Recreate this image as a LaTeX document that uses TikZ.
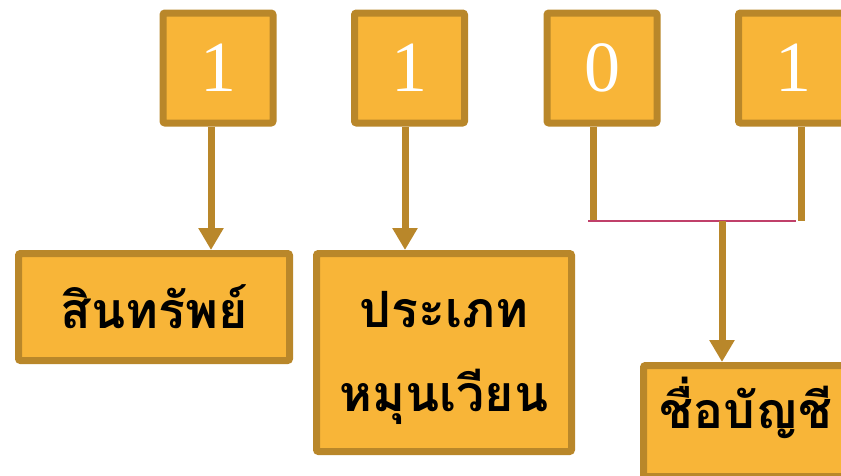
\documentclass[tikz,border=0pt]{standalone}
\usepackage{fontspec}
\setmainfont{Liberation Serif}
\newfontfamily\thaifont[Script=Thai]{Loma}
\usetikzlibrary{arrows.meta}
\definecolor{boxfill}{RGB}{248,181,56}
\definecolor{boxline}{RGB}{185,135,42}
\definecolor{joinline}{RGB}{192,64,106}

\begin{document}
\begin{tikzpicture}[x=1pt,y=-1pt,
	digitbox/.style={draw=boxline,fill=boxfill,line width=7pt,rounded corners=2pt,minimum width=110pt,minimum height=110pt,inner sep=0pt,text=white,font=\fontsize{72}{72}\selectfont},
	namebox/.style={draw=boxline,fill=boxfill,line width=7pt,rounded corners=2pt,inner sep=0pt,align=center,font=\thaifont\bfseries\fontsize{50}{84}\selectfont},
	link/.style={draw=boxline,line width=7pt},
	linkarrow/.style={link,-{Triangle[length=22pt,width=24pt]}}]
	\useasboundingbox (0,0) rectangle (841,475);
	\clip (0,0) rectangle (841,475);
	
	%DIGIT BOXES
	\node[digitbox] (d1) at (218,68) {1};
	\node[digitbox] (d2) at (409.5,68) {1};
	\node[digitbox] (d3) at (602,68) {0};
	\node[digitbox] (d4) at (793.5,68) {1};
	
	%NAME BOXES
	\node[namebox,minimum width=271pt,minimum height=107pt] (asset) at (154,307) {สินทรัพย์};
	\node[namebox,minimum width=255pt,minimum height=198pt,text depth=2pt] (current) at (444,352.5) {ประเภท\\หมุนเวียน};
	\node[namebox,minimum width=205pt,minimum height=111pt,text depth=36pt] (account) at (746,421) {ชื่อบัญชี};
	
	%JOIN
	\coordinate (jl) at (588,221);
	\coordinate (jr) at (796,221);
	\coordinate (jn) at (722,221);
	
	%ARROWS
	\draw[linkarrow] ([xshift=-7pt]d1.south) -- ([xshift=-7pt]d1.south |- asset.north);
	\draw[linkarrow] ([xshift=-4.5pt]d2.south) -- ([xshift=-4.5pt]d2.south |- current.north);
	\draw[link] ([xshift=-9pt]d3.south) -- ([xshift=-9pt]d3.south |- jl);
	\draw[link] ([xshift=7.5pt]d4.south) -- ([xshift=7.5pt]d4.south |- jr);
	\draw[joinline,line width=2pt] (jl) -- (jr);
	\draw[linkarrow] (jn) -- (jn |- account.north);
\end{tikzpicture}
\end{document}
